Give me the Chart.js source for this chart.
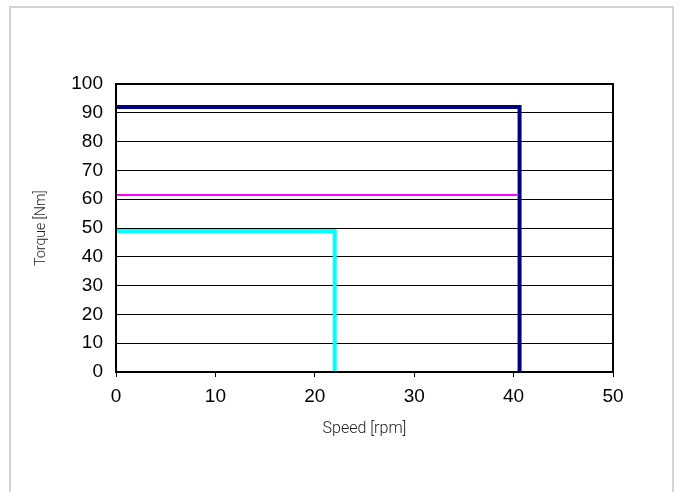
<!DOCTYPE html>
<html>
<head>
<meta charset="utf-8">
<script src="https://cdn.jsdelivr.net/npm/chart.js@4"></script>
<style>
  html, body { margin: 0; padding: 0; background: #fff; }
  #frame {
    position: absolute; left: 9px; top: 6px; width: 665px; height: 500px;
    border: 2px solid #d4d4d4; border-bottom: none; box-sizing: border-box;
  }
  #torque { position: absolute; left: 0; top: 0; }
</style>
</head>
<body>
<div id="frame"></div>
<canvas id="torque" width="680" height="492"></canvas>
<script>
// operating envelopes: speed [rpm] vs torque [Nm]
const outerSpeed  = [0, 40.6, 40.6];
const outerTorque = [92, 92, 0];
const ratedSpeed  = [0, 40.4];
const ratedTorque = [61.5, 61.5];
const innerSpeed  = [0, 22, 22];
const innerTorque = [49, 49, 0];

const xTicks = [0, 10, 20, 30, 40, 50];
const yTicks = [0, 10, 20, 30, 40, 50, 60, 70, 80, 90, 100];

const toPoints = (xs, ys) => xs.map((x, i) => ({ x, y: ys[i] }));

function lineSet(xs, ys, color, width) {
  return {
    data:             toPoints(xs, ys),
    borderColor:      color,
    borderWidth:      width,
    borderJoinStyle:  'miter',
    borderCapStyle:   'butt',
    pointRadius:      0,
    showLine:         true,
    fill:             false,
    tension:          0
  };
}

// black frame round the plot area
const frame = {
  id: 'frame',
  afterDatasetsDraw(chart) {
    const { ctx, chartArea: a } = chart;
    ctx.save();
    ctx.strokeStyle = '#000';
    ctx.lineWidth = 2;
    ctx.strokeRect(a.left, a.top, a.right - a.left, a.bottom - a.top);
    ctx.restore();
  }
};

const tickFont  = { family: '"Liberation Sans", Arial, sans-serif', size: 19 };

new Chart(document.getElementById('torque').getContext('2d'), {
  type: 'scatter',
  data: {
    datasets: [
      lineSet(innerSpeed, innerTorque, '#00ffff', 4),
      lineSet(ratedSpeed, ratedTorque, '#ff00ff', 2),
      lineSet(outerSpeed, outerTorque, '#000080', 4)
    ]
  },
  options: {
    responsive: false,
    animation: false,
    layout: { padding: { left: 29, top: 84, right: 67, bottom: 50 } },
    plugins: { legend: { display: false }, tooltip: { enabled: false } },
    scales: {
      x: {
        type: 'linear',
        min: 0, max: 50,
        afterBuildTicks: s => { s.ticks = xTicks.map(v => ({ value: v })); },
        afterFit: s => { s.height = 70; },
        ticks: { color: '#000', font: tickFont, padding: 8, maxRotation: 0 },
        grid: { drawOnChartArea: false, color: '#000', tickLength: 5 },
        border: { color: '#000', width: 2 },
        title: {
          display: true, text: 'Speed [rpm]', color: '#222',
          font: { family: 'Roboto, sans-serif', size: 16, weight: 300 },
          padding: { top: 8, bottom: 3 }
        }
      },
      y: {
        type: 'linear',
        min: 0, max: 100,
        afterBuildTicks: s => { s.ticks = yTicks.map(v => ({ value: v })); },
        afterFit: s => { s.width = 87; },
        ticks: { color: '#000', font: tickFont, padding: 13 },
        grid: { color: '#000', lineWidth: 1, drawTicks: false },
        border: { color: '#000', width: 2 },
        title: {
          display: true, text: 'Torque [Nm]', color: '#222',
          font: { family: 'Roboto, sans-serif', size: 14, weight: 300 },
          padding: 4
        }
      }
    }
  },
  plugins: [frame]
});
</script>
</body>
</html>
